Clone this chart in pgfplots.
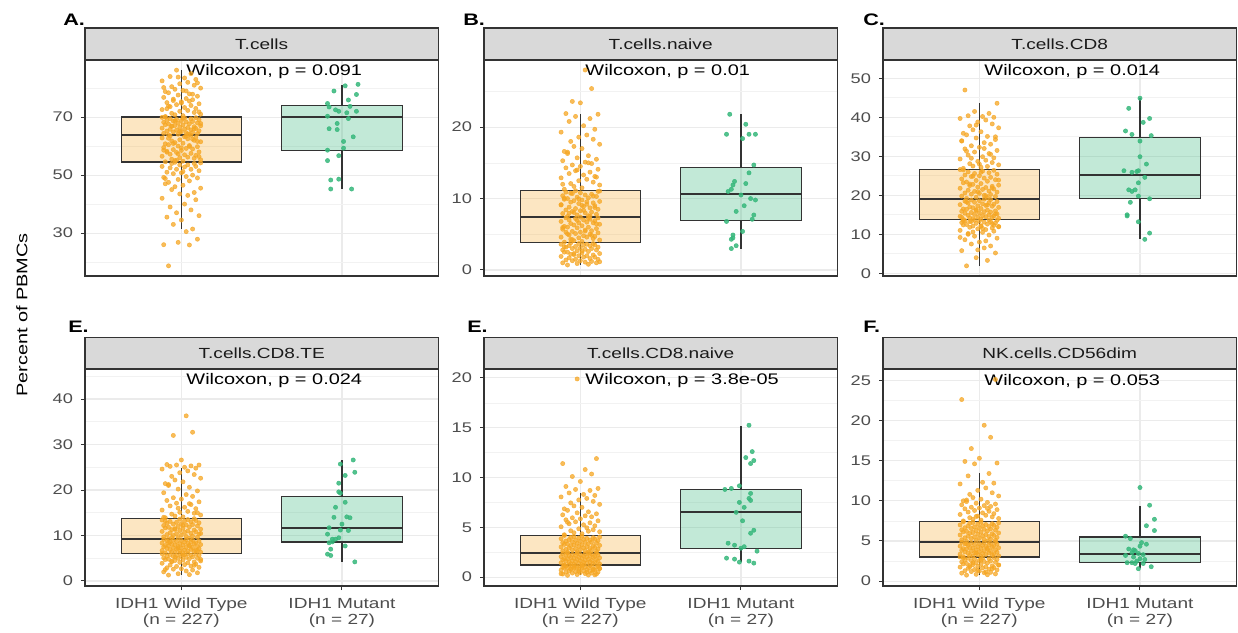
\documentclass[border=0pt]{standalone}
\usepackage{fontspec}
\setmainfont{Liberation Sans}[FakeStretch=1.3]
\usepackage{pgfplots}
\usepackage{pgfplotstable}
\pgfplotsset{compat=1.18}
\usepgfplotslibrary{statistics}

\definecolor{wtcol}{HTML}{F5A623}
\definecolor{mutcol}{HTML}{36B77B}
\definecolor{framecol}{HTML}{333333}
\definecolor{gridcol}{HTML}{EBEBEB}
\definecolor{minorgridcol}{HTML}{F2F2F2}
\definecolor{stripcol}{HTML}{D9D9D9}
\definecolor{tickcol}{HTML}{4D4D4D}
\definecolor{striptext}{HTML}{1A1A1A}

% IDH1 wild type (n = 227): jittered position j and percent of PBMCs per cell type
% a = T.cells, b = T.cells.naive, c = T.cells.CD8, d = T.cells.CD8.TE,
% e = T.cells.CD8.naive, f = NK.cells.CD56dim
\pgfplotstableread{
j a b c d e f
0.92 18.7 0.7 1.9 1.3 0.17 0.75
1.05 25.9 0.8 3.3 1.4 0.2 0.8
0.98 26.8 0.9 4.0 1.6 0.25 0.85
1.10 27.9 1.0 5.2 1.8 0.3 0.9
0.89 26.0 1.0 5.8 2.0 0.3 1.0
1.03 30.5 1.1 6.5 2.2 0.35 1.05
1.07 31.4 1.2 7.0 2.4 0.4 1.1
0.95 33.0 1.3 7.5 2.6 0.4 1.2
1.00 34.5 1.3 8.0 2.7 0.45 1.25
0.91 35.5 1.4 8.6 2.9 0.5 1.3
1.11 36.0 1.5 9.0 3.0 0.5 1.4
0.97 37.0 1.5 9.5 3.2 0.55 1.45
1.06 38.0 1.6 9.8 3.3 0.6 1.5
0.93 39.0 1.7 10.2 3.5 0.6 1.6
1.02 40.0 1.8 10.5 3.6 0.65 1.65
1.09 41.5 1.8 10.8 3.7 0.7 1.7
0.88 42.0 1.9 11.0 3.9 0.7 1.75
1.04 43.0 2.0 11.2 4.0 0.75 1.8
0.99 43.5 2.0 11.4 4.1 0.8 1.85
1.08 44.0 2.1 11.6 4.2 0.8 1.9
0.94 45.0 2.2 11.8 4.3 0.82 1.95
1.12 45.5 2.3 12.0 4.4 0.85 2.0
0.96 46.0 2.3 12.1 4.5 0.88 2.05
1.01 46.5 2.4 12.2 4.6 0.9 2.1
0.90 47.0 2.5 12.4 4.7 0.9 2.15
0.92 47.5 2.5 12.5 4.8 0.92 2.2
1.05 48.0 2.6 12.6 4.9 0.95 2.25
0.98 48.5 2.7 12.8 5.0 0.97 2.3
1.10 49.0 2.8 12.9 5.0 1.0 2.35
0.89 49.2 2.8 13.0 5.1 1.0 2.4
1.03 49.5 2.9 13.1 5.2 1.02 2.45
1.07 50.0 3.0 13.2 5.3 1.05 2.5
0.95 50.5 3.0 13.3 5.4 1.07 2.55
1.00 50.8 3.1 13.4 5.4 1.1 2.6
0.91 51.0 3.2 13.5 5.5 1.1 2.65
1.11 51.5 3.2 13.6 5.6 1.12 2.7
0.97 52.0 3.3 13.6 5.6 1.15 2.75
1.06 52.0 3.4 13.7 5.7 1.17 2.8
0.93 52.5 3.4 10.0 5.8 1.2 2.85
1.02 52.8 3.5 11.5 5.8 1.2 2.9
1.09 53.0 3.5 12.3 5.9 0.22 2.95
0.88 53.0 3.6 9.2 6.0 0.33 3.0
1.04 53.5 3.6 8.3 6.0 0.48 1.15
0.99 53.5 3.7 6.0 6.1 0.58 1.35
1.08 54.0 3.7 12.7 3.45 0.68 1.55
0.94 54.0 3.8 13.25 4.25 0.78 1.78
1.12 54.2 1.15 11.9 4.75 0.87 2.02
0.96 54.4 2.15 10.6 5.25 0.98 2.28
1.01 51.2 2.65 12.05 5.65 1.08 2.62
0.90 48.8 3.25 13.45 2.5 1.18 2.88
0.90 54.6 3.9 13.8 6.15 1.22 3.04
1.01 54.8 4.0 13.9 6.2 1.25 3.08
0.96 55.0 4.1 14.0 6.3 1.28 3.12
1.12 55.3 4.2 14.1 6.35 1.3 3.16
0.94 55.5 4.3 14.2 6.4 1.33 3.2
1.08 55.8 4.4 14.3 6.5 1.35 3.24
0.99 56.0 4.5 14.4 6.55 1.38 3.28
1.04 56.2 4.6 14.5 6.6 1.4 3.32
0.88 56.5 4.6 14.6 6.7 1.43 3.36
1.09 56.8 4.7 14.7 6.75 1.45 3.4
1.02 57.0 4.8 14.8 6.8 1.48 3.44
0.93 57.2 4.9 14.9 6.9 1.5 3.48
1.06 57.5 5.0 15.0 6.95 1.53 3.52
0.97 57.8 5.1 15.1 7.0 1.55 3.56
1.11 58.0 5.2 15.2 7.1 1.58 3.6
0.91 58.2 5.3 15.4 7.15 1.6 3.64
1.00 58.5 5.3 15.5 7.2 1.63 3.68
0.95 58.8 5.4 15.6 7.3 1.65 3.72
1.07 59.0 5.5 15.7 7.35 1.68 3.76
1.03 59.2 5.6 15.8 7.4 1.7 3.8
0.89 59.5 5.7 15.9 7.5 1.73 3.84
1.10 59.8 5.8 16.0 7.55 1.75 3.88
0.98 60.0 5.9 16.1 7.6 1.78 3.92
1.05 60.2 6.0 16.2 7.7 1.8 3.96
0.92 60.5 6.0 16.4 7.75 1.83 4.0
0.90 60.8 6.1 16.5 7.8 1.85 4.04
1.01 61.0 6.2 16.6 7.9 1.88 4.08
0.96 61.2 6.3 16.8 7.95 1.9 4.12
1.12 61.5 6.4 16.9 8.0 1.93 4.16
0.94 61.8 6.5 17.0 8.1 1.95 4.2
1.08 62.0 6.6 17.2 8.15 1.98 4.24
0.99 62.2 6.6 17.3 8.2 2.0 4.28
1.04 62.5 6.7 17.4 8.3 2.03 4.32
0.88 62.8 6.8 17.6 8.35 2.05 4.36
1.09 63.0 6.9 17.7 8.4 2.08 4.4
1.02 63.2 7.0 17.8 8.5 2.1 4.44
0.93 63.5 7.0 18.0 8.55 2.13 4.48
1.06 63.7 7.1 18.1 8.6 2.15 4.52
0.97 55.1 7.2 18.2 8.7 2.18 4.56
1.11 56.4 7.3 18.4 8.75 2.2 4.6
0.91 57.9 7.3 18.5 8.8 2.23 4.64
1.00 59.4 7.4 18.6 8.9 2.25 4.68
0.95 60.9 4.25 18.8 8.95 2.28 4.72
1.07 62.4 4.85 18.9 9.0 2.3 4.76
1.03 63.4 5.45 19.0 9.1 2.33 4.8
0.89 58.6 5.95 14.35 9.15 2.35 4.84
1.10 61.6 6.45 15.25 6.65 2.38 4.88
0.98 57.3 6.95 16.3 7.25 2.4 3.5
1.05 59.9 7.25 17.5 7.85 2.43 4.1
0.92 62.7 5.05 18.3 8.45 2.45 4.65
0.92 63.9 7.5 19.2 9.3 2.48 4.95
1.05 64.0 7.6 19.4 9.4 2.52 5.0
0.98 64.1 7.7 19.5 9.5 2.55 5.05
1.10 64.3 7.8 19.7 9.6 2.58 5.1
0.89 64.4 7.9 19.8 9.7 2.62 5.15
1.03 64.6 8.0 20.0 9.8 2.65 5.2
1.07 64.7 8.1 20.2 9.9 2.68 5.25
0.95 64.9 8.2 20.3 10.0 2.72 5.3
1.00 65.0 8.3 20.5 10.1 2.75 5.35
0.91 65.2 8.4 20.6 10.2 2.78 5.4
1.11 65.3 8.5 20.8 10.3 2.82 5.45
0.97 65.5 8.6 21.0 10.4 2.85 5.5
1.06 65.6 8.7 21.1 10.5 2.88 5.55
0.93 65.8 8.8 21.3 10.6 2.92 5.6
1.02 65.9 8.9 21.5 10.7 2.95 5.65
1.09 66.1 9.0 21.6 10.8 2.98 5.7
0.88 66.2 9.1 21.8 10.9 3.02 5.75
1.04 66.4 9.2 22.0 11.0 3.05 5.8
0.99 66.5 9.3 22.1 11.1 3.08 5.85
1.08 66.7 9.4 22.3 11.2 3.12 5.9
0.94 66.8 9.5 22.5 11.3 3.15 5.95
1.12 67.0 9.6 22.6 11.4 3.18 6.0
0.96 67.1 9.7 22.8 11.5 3.22 6.05
1.01 67.3 9.8 23.0 11.6 3.25 6.1
0.90 67.4 9.9 23.2 11.7 3.28 6.15
0.92 67.6 10.0 23.4 11.8 3.32 6.2
1.05 67.7 10.1 23.6 11.9 3.35 6.25
0.98 67.9 10.2 23.8 12.0 3.38 6.3
1.10 68.0 10.3 24.0 12.1 3.42 6.35
0.89 68.2 10.4 24.2 12.2 3.45 6.4
1.03 68.3 10.5 24.4 12.3 3.48 6.45
1.07 68.5 10.6 24.6 12.4 3.52 6.5
0.95 68.6 10.7 24.8 12.5 3.55 6.55
1.00 68.8 10.8 25.0 12.6 3.58 6.6
0.91 68.9 10.9 25.2 12.7 3.62 6.65
1.11 69.1 11.0 25.4 12.8 3.65 6.7
0.97 69.2 11.1 25.6 12.9 3.68 6.75
1.06 69.4 7.55 25.8 13.0 3.72 6.8
0.93 69.5 7.95 26.0 13.1 3.75 6.85
1.02 69.7 8.35 26.2 13.2 3.78 6.9
1.09 69.8 8.75 26.4 13.3 3.82 6.95
0.88 69.9 9.15 26.6 13.4 3.85 7.0
1.04 64.2 9.55 19.9 13.5 3.88 7.05
0.99 65.1 9.95 20.9 13.6 3.92 7.1
1.08 66.0 10.35 21.9 13.7 3.95 7.15
0.94 66.9 10.75 22.9 9.55 3.98 7.2
1.12 67.8 11.05 23.9 10.45 4.02 7.25
0.96 68.7 8.05 24.9 11.35 4.05 7.3
1.01 69.6 9.05 25.9 12.25 4.1 7.35
0.90 70.0 10.05 26.5 13.15 4.18 7.4
0.90 70.2 11.3 26.9 13.9 4.25 7.5
1.01 70.5 11.5 27.2 14.1 4.35 7.6
0.96 70.8 11.7 27.5 14.3 4.45 7.7
1.12 71.0 11.9 27.8 14.5 4.55 7.8
0.94 71.3 12.1 28.1 14.7 4.65 7.9
1.08 71.6 12.3 28.4 14.9 4.75 8.0
0.99 72.0 12.5 28.7 15.1 4.85 8.1
1.04 72.3 12.7 29.0 15.3 4.95 8.2
0.88 72.6 12.9 29.3 15.6 5.05 8.3
1.09 73.0 13.1 29.6 15.9 5.15 8.4
1.02 73.3 13.3 29.9 16.2 5.25 8.5
0.93 73.6 13.5 30.3 16.5 5.35 8.6
1.06 74.0 13.7 30.7 16.8 5.45 8.7
0.97 74.3 13.9 31.1 17.1 5.55 8.8
1.11 74.6 14.1 31.5 17.4 5.65 8.9
0.91 75.0 14.3 31.9 17.7 5.75 9.0
1.00 75.3 14.5 32.3 18.0 5.85 9.1
0.95 75.7 14.7 32.7 18.3 5.95 9.2
1.07 76.0 14.9 33.1 18.6 6.05 9.3
1.03 76.4 15.1 33.5 19.0 6.15 9.4
0.89 76.8 15.3 33.9 19.4 6.25 9.5
1.10 77.2 15.5 34.3 19.8 6.35 9.6
0.98 77.6 15.7 34.7 20.2 6.45 9.7
1.05 78.0 16.0 35.1 20.6 6.55 9.8
0.92 78.4 16.3 35.5 21.0 6.7 9.9
0.90 78.8 16.6 35.9 21.4 6.85 10.0
1.01 79.2 17.0 36.3 21.8 7.0 10.2
0.96 79.6 17.3 36.8 22.2 7.15 10.4
1.12 80.0 17.6 37.3 22.6 7.3 10.6
0.94 80.5 18.0 37.8 23.0 7.45 10.8
1.08 81.0 18.3 38.3 23.4 7.6 11.0
0.99 81.5 18.6 38.8 23.8 7.75 11.3
1.04 82.0 18.9 39.3 24.2 7.9 11.6
0.88 82.5 19.3 39.7 24.6 8.05 12.1
1.09 83.0 19.7 40.0 24.8 8.2 12.2
1.02 83.5 20.2 40.2 25.0 8.3 12.3
0.93 84.0 20.8 40.4 25.2 8.45 13.1
1.06 85.0 21.2 41.0 25.3 8.7 13.4
0.97 86.2 21.5 41.5 25.5 8.8 14.6
1.11 71.8 21.8 43.6 25.5 8.9 14.7
0.91 72.9 21.9 47.0 25.6 9.1 14.9
1.00 74.8 23.4 28.0 26.6 9.6 15.3
0.95 76.2 23.6 29.5 32.0 10.1 16.5
1.07 77.9 25.4 30.5 32.7 10.35 17.9
1.03 79.0 28.0 32.0 36.3 10.8 19.4
0.89 80.2 12.0 34.0 14.0 11.4 22.6
1.10 81.8 13.0 35.0 15.0 11.9 25.1
0.98 83.8 14.0 38.0 16.0 19.9 8.05
1.05 75.5 15.0 27.4 17.0 4.6 9.05
0.92 73.8 16.5 31.3 21.2 5.5 10.1
}\wtdata

\pgfplotsset{
  panel/.style={
    anchor=south west, scale only axis, width=265pt,
    xmin=0.4, xmax=2.6, xtick={1,2},
    axis line style={draw=framecol, line width=0.9pt},
    tick style={draw=framecol, line width=0.75pt},
    tick align=outside, major tick length=3pt, minor tick length=0pt,
    xtick pos=left, ytick pos=left,
    xmajorgrids, ymajorgrids, yminorgrids,
    major grid style={draw=gridcol, line width=0.8pt},
    minor grid style={draw=minorgridcol, line width=0.5pt},
    /pgf/number format/assume math mode=true,
    yticklabel style={font=\fontsize{10.5}{12}\selectfont, text=tickcol, xshift=-2.5pt},
    clip=false,
  },
  toprow/.style={panel, height=162pt, xmajorticks=false},
  botrow/.style={panel, height=162.75pt,
    xticklabels={{IDH1 Wild Type\\(n = 227)},{IDH1 Mutant\\(n = 27)}},
    xticklabel style={align=center, font=\fontsize{11}{12}\selectfont, text=tickcol, yshift=-2.5pt}},
  wtpts/.style={only marks, mark=*, mark size=1.6pt, color=wtcol, opacity=0.75},
  mutpts/.style={only marks, mark=*, mark size=1.6pt, color=mutcol, opacity=0.85},
  boxbase/.style={draw=framecol, line width=0.95pt, draw opacity=1, solid,
    boxplot/draw direction=y,
    boxplot/every median/.style={line width=1.4pt}},
  wtbox/.style={boxbase, fill=wtcol, fill opacity=0.28},
  mutbox/.style={boxbase, fill=mutcol, fill opacity=0.3},
}

\newcommand\pvalue[1]{%
  \node[anchor=base west, inner sep=0pt, yshift=-12pt,
        font=\fontsize{11.5}{13}\selectfont]
    at ({axis cs:1.03,0}|-{rel axis cs:0,1}) {Wilcoxon, p = #1};}

\begin{document}
\begin{tikzpicture}
\path[use as bounding box] (0,0) rectangle (928.5pt,474pt);

% ---------------- top row ----------------
\begin{axis}[toprow, name=pa, at={(63.75pt,267pt)},
  ymin=15.2, ymax=89.7, ytick={30,50,70}, minor ytick={20,40,60,80}]
  \addplot[wtpts] table[x=j, y=a] {\wtdata};
  \addplot[mutpts] coordinates {(1.95,79.0) (2.02,80.8) (2.10,81.3) (2.09,77.8) (2.04,75.9)
    (1.91,74.7) (1.92,73.5) (1.96,72.5) (1.98,72.0) (2.05,73.7) (2.09,72.0) (1.91,70.3)
    (2.04,69.5) (1.92,66.0) (1.97,65.7) (2.07,63.2) (2.01,61.6) (2.01,59.3) (1.91,58.6)
    (1.98,56.7) (1.91,55.0) (1.93,48.3) (1.98,48.6) (1.93,45.2) (2.06,45.2) (2.03,71.5) (1.97,67.8)};
  \addplot[wtbox, boxplot prepared={draw position=1, box extend=0.75, whisker extend=0,
    lower whisker=31.4, lower quartile=54.5, median=63.8, upper quartile=70.0, upper whisker=86.2}] coordinates {};
  \addplot[mutbox, boxplot prepared={draw position=2, box extend=0.75, whisker extend=0,
    lower whisker=45.3, lower quartile=58.4, median=69.9, upper quartile=73.9, upper whisker=81.0}] coordinates {};
  \pvalue{0.091}
\end{axis}

\begin{axis}[toprow, name=pb, at={(363pt,267pt)},
  ymin=-0.84, ymax=29.4, ytick={0,10,20}, minor ytick={5,15,25}]
  \addplot[wtpts] table[x=j, y=b] {\wtdata};
  \addplot[mutpts] coordinates {(1.93,21.8) (2.03,20.4) (1.91,19.0) (2.01,18.4) (2.05,19.0)
    (2.09,19.0) (2.08,14.7) (2.05,13.6) (1.96,12.4) (1.95,11.9) (2.03,12.1) (1.94,11.3)
    (1.92,11.0) (2.00,10.5) (2.06,10.0) (2.09,9.8) (1.97,8.2) (2.08,7.7) (2.07,7.1) (1.91,6.8)
    (2.01,5.4) (1.95,4.9) (1.95,4.5) (1.94,4.3) (1.97,3.4) (1.94,3.0) (2.02,9.0)};
  \addplot[wtbox, boxplot prepared={draw position=1, box extend=0.75, whisker extend=0,
    lower whisker=0.7, lower quartile=3.8, median=7.4, upper quartile=11.15, upper whisker=21.9}] coordinates {};
  \addplot[mutbox, boxplot prepared={draw position=2, box extend=0.75, whisker extend=0,
    lower whisker=3.0, lower quartile=6.9, median=10.7, upper quartile=14.3, upper whisker=21.8}] coordinates {};
  \pvalue{0.01}
\end{axis}

\begin{axis}[toprow, name=pc, at={(662.25pt,267pt)},
  ymin=-0.7, ymax=54.7, ytick={0,10,...,50}, minor ytick={5,15,...,45}]
  \addplot[wtpts] table[x=j, y=c] {\wtdata};
  \addplot[mutpts] coordinates {(2.00,44.9) (1.93,42.3) (2.06,39.7) (2.02,38.7) (1.91,36.5)
    (1.95,35.6) (2.07,35.3) (2.00,33.9) (2.00,29.9) (1.90,26.3) (1.95,25.9) (1.98,26.1)
    (1.99,26.3) (2.03,24.6) (1.99,23.2) (1.93,21.4) (1.97,21.4) (1.99,19.8) (2.06,19.1)
    (1.94,18.2) (1.92,15.0) (1.92,14.7) (1.99,13.2) (2.06,10.3) (2.03,8.7) (1.95,21.0) (2.04,28.0)};
  \addplot[wtbox, boxplot prepared={draw position=1, box extend=0.75, whisker extend=0,
    lower whisker=1.9, lower quartile=13.7, median=19.05, upper quartile=26.7, upper whisker=43.6}] coordinates {};
  \addplot[mutbox, boxplot prepared={draw position=2, box extend=0.75, whisker extend=0,
    lower whisker=8.7, lower quartile=19.2, median=25.2, upper quartile=34.9, upper whisker=45.0}] coordinates {};
  \pvalue{0.014}
\end{axis}

% ---------------- bottom row ----------------
\begin{axis}[botrow, name=pd, at={(63.75pt,34.5pt)},
  ymin=-1.1, ymax=46.6, ytick={0,10,...,40}, minor ytick={5,15,...,45}]
  \addplot[wtpts] table[x=j, y=d] {\wtdata};
  \addplot[mutpts] coordinates {(2.07,26.6) (1.99,25.7) (2.08,23.9) (2.02,23.2) (1.98,21.5)
    (1.98,19.6) (1.99,19.3) (2.02,17.3) (1.96,16.2) (1.95,14.0) (2.03,14.1) (2.05,13.9)
    (1.92,11.7) (1.99,11.2) (2.04,11.1) (1.91,10.3) (1.94,9.2) (1.98,9.5) (1.96,9.2) (1.94,8.6)
    (1.92,8.4) (2.02,7.7) (1.93,7.0) (1.91,5.9) (1.93,5.6) (2.08,4.2) (2.00,12.5)};
  \addplot[wtbox, boxplot prepared={draw position=1, box extend=0.75, whisker extend=0,
    lower whisker=1.3, lower quartile=6.1, median=9.2, upper quartile=13.8, upper whisker=24.8}] coordinates {};
  \addplot[mutbox, boxplot prepared={draw position=2, box extend=0.75, whisker extend=0,
    lower whisker=4.2, lower quartile=8.6, median=11.7, upper quartile=18.5, upper whisker=26.6}] coordinates {};
  \pvalue{0.024}
\end{axis}

\begin{axis}[botrow, name=pe, at={(363pt,34.5pt)},
  ymin=-0.9, ymax=20.9, ytick={0,5,...,20}, minor ytick={2.5,7.5,...,17.5}]
  \addplot[wtpts] table[x=j, y=e] {\wtdata};
  \addplot[mutpts] coordinates {(2.05,15.25) (2.07,12.6) (2.03,12.0) (2.08,11.7) (2.06,11.4)
    (1.99,9.16) (1.94,8.9) (1.90,8.8) (2.06,8.4) (2.05,7.9) (2.06,7.7) (1.99,7.5) (2.01,5.65)
    (2.08,4.7) (2.06,4.4) (1.92,3.4) (1.96,3.2) (2.00,2.9) (2.02,3.05) (2.10,2.6) (1.91,1.9)
    (1.96,1.8) (1.99,1.5) (2.05,1.6) (2.08,1.4) (1.97,6.5) (2.02,7.0)};
  \addplot[wtbox, boxplot prepared={draw position=1, box extend=0.75, whisker extend=0,
    lower whisker=0.17, lower quartile=1.2, median=2.45, upper quartile=4.2, upper whisker=8.45}] coordinates {};
  \addplot[mutbox, boxplot prepared={draw position=2, box extend=0.75, whisker extend=0,
    lower whisker=1.5, lower quartile=2.9, median=6.5, upper quartile=8.8, upper whisker=15.2}] coordinates {};
  \pvalue{3.8e-05}
\end{axis}

\begin{axis}[botrow, name=pf, at={(662.25pt,34.5pt)},
  ymin=-0.6, ymax=26.4, ytick={0,5,...,25}, minor ytick={2.5,7.5,...,22.5}]
  \addplot[wtpts] table[x=j, y=f] {\wtdata};
  \addplot[mutpts] coordinates {(2.00,11.65) (2.06,9.45) (2.09,7.7) (2.04,6.9) (2.09,6.3)
    (1.91,5.6) (2.01,4.8) (2.00,4.35) (1.96,3.9) (1.97,3.8) (1.95,3.55) (1.99,3.45) (1.91,3.2)
    (1.96,3.0) (2.00,2.8) (1.92,2.3) (1.95,2.3) (1.97,2.2) (2.07,1.8) (1.99,1.55) (2.02,2.2)
    (1.98,2.5) (2.03,2.7) (2.02,3.3) (1.93,4.0) (2.04,4.6) (1.94,5.3)};
  \addplot[wtbox, boxplot prepared={draw position=1, box extend=0.75, whisker extend=0,
    lower whisker=0.75, lower quartile=3.0, median=4.9, upper quartile=7.4, upper whisker=13.4}] coordinates {};
  \addplot[mutbox, boxplot prepared={draw position=2, box extend=0.75, whisker extend=0,
    lower whisker=1.6, lower quartile=2.3, median=3.35, upper quartile=5.5, upper whisker=9.4}] coordinates {};
  \pvalue{0.053}
\end{axis}

% facet strips
\foreach \p/\lab in {pa/T.cells, pb/T.cells.naive, pc/T.cells.CD8}{
  \draw[draw=framecol, line width=0.9pt, fill=stripcol]
    (\p.north west) rectangle ([yshift=24pt]\p.north east);
  \node[font=\fontsize{11}{12}\selectfont, text=striptext] at ([yshift=12pt]\p.north) {\lab};
}
\foreach \p/\lab in {pd/T.cells.CD8.TE, pe/T.cells.CD8.naive, pf/NK.cells.CD56dim}{
  \draw[draw=framecol, line width=0.9pt, fill=stripcol]
    (\p.north west) rectangle ([yshift=23.5pt]\p.north east);
  \node[font=\fontsize{11}{12}\selectfont, text=striptext] at ([yshift=11.75pt]\p.north) {\lab};
}

% panel letters
\begin{scope}[every node/.style={anchor=base west, inner sep=0pt,
    font=\bfseries\fontsize{12.5}{14}\selectfont}]
  \node at (47.25pt,454.5pt) {A.};
  \node at (347.25pt,454.5pt) {B.};
  \node at (647.25pt,454.5pt) {C.};
  \node at (51pt,224.25pt) {E.};
  \node at (350.25pt,224.25pt) {E.};
  \node at (647.25pt,224.25pt) {F.};
\end{scope}

% shared y label
\node[rotate=90, font=\fontsize{11.5}{13}\selectfont] at (16.5pt,237.75pt) {Percent of PBMCs};
\end{tikzpicture}
\end{document}
